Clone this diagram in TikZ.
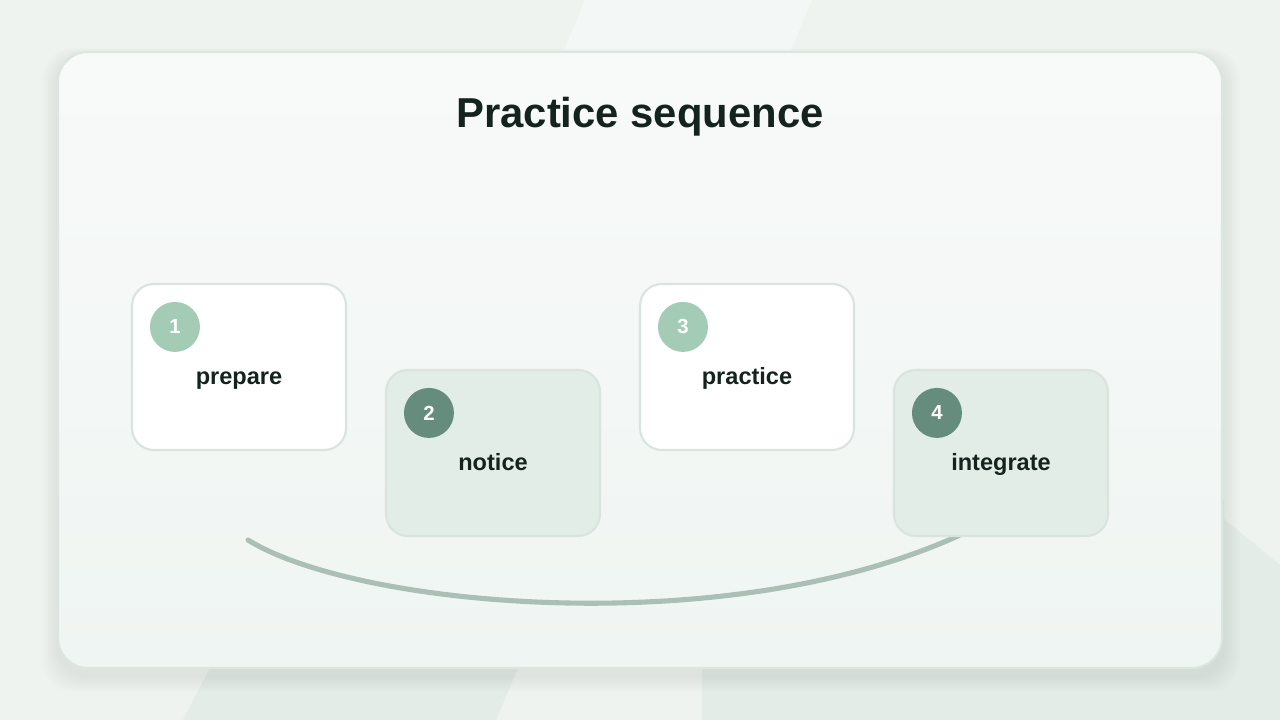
\documentclass[tikz,border=0pt]{standalone}
\usepackage{fontspec}
\setmainfont{Liberation Sans}
\definecolor{bg}{HTML}{EEF3F0}
\definecolor{bgdark}{HTML}{E3ECE7}
\definecolor{bglight}{HTML}{F3F7F5}
\definecolor{cardA}{HTML}{F8FAF9}
\definecolor{cardB}{HTML}{EFF5F2}
\definecolor{cardline}{HTML}{DCE6E1}
\definecolor{boxline}{HTML}{DAE4DF}
\definecolor{boxfill}{HTML}{E3EDE8}
\definecolor{numlight}{HTML}{A3CBB5}
\definecolor{numdark}{HTML}{668C7E}
\definecolor{arc}{HTML}{AABFB6}
\definecolor{ink}{HTML}{15231E}

\begin{document}
\begin{tikzpicture}[
      stepbox/.style={draw=boxline, line width=0.6pt, rounded corners=6.2pt,
        minimum width=2.14cm, minimum height=1.66cm},
      lightbox/.style={stepbox, fill=white},
      darkbox/.style={stepbox, fill=boxfill},
      num/.style={circle, minimum size=0.5cm, inner sep=0pt, text=white,
        font=\fontsize{5.8}{6}\selectfont\bfseries},
      lbl/.style={text=ink, anchor=base, font=\fontsize{6.7}{8}\selectfont\bfseries}]
    % page and faint backdrop
    \useasboundingbox[fill=bg] (0,0) rectangle (12.8,7.2);
    \fill[bglight] (5.85,7.2) -- (8.12,7.2) -- (7.70,6.2) -- (5.43,6.2) -- cycle;
    \fill[bgdark] (2.10,0.52) -- (5.18,0.52) -- (4.96,0) -- (1.83,0) -- cycle;
    \fill[bgdark] (7.02,0) -- (7.02,2.2) -- (12.24,2.2) -- (12.24,2.01)
      -- (12.8,1.55) -- (12.8,0) -- cycle;
    % card with soft shadow
    \foreach \i in {1,...,8}
      \fill[black, opacity=0.008, rounded corners=9pt]
        (0.58-0.02*\i,0.44-0.02*\i) rectangle (12.24+0.02*\i,6.64+0.01*\i);
    \draw[draw=cardline, line width=0.6pt, rounded corners=8.5pt,
      top color=cardA, bottom color=cardB] (0.58,0.52) rectangle (12.22,6.68);
    \node[text=ink, anchor=base, font=\fontsize{11.9}{14}\selectfont\bfseries] (title) at (6.40,5.92) {Practice sequence};
    % arc behind the steps
    \coordinate (arcL) at (2.48,1.80);
    \coordinate (arcR) at (9.90,2.00);
    \draw[arc, line width=1.45pt, line cap=round]
      (arcL) .. controls (3.60,1.10) and (7.60,0.75) .. (arcR);
    % steps
    \node[lightbox] (s1) at (2.39,3.53) {};
    \node[darkbox]  (s2) at (4.93,2.67) {};
    \node[lightbox] (s3) at (7.47,3.53) {};
    \node[darkbox]  (s4) at (10.01,2.67) {};
    \node[num, fill=numlight] (n1) at ([shift={(0.44,-0.44)}]s1.north west) {1};
    \node[num, fill=numdark]  (n2) at ([shift={(0.44,-0.44)}]s2.north west) {2};
    \node[num, fill=numlight] (n3) at ([shift={(0.44,-0.44)}]s3.north west) {3};
    \node[num, fill=numdark]  (n4) at ([shift={(0.44,-0.44)}]s4.north west) {4};
    \node[lbl] (l1) at ([yshift=-0.18cm]s1.center) {prepare};
    \node[lbl] (l2) at ([yshift=-0.18cm]s2.center) {notice};
    \node[lbl] (l3) at ([yshift=-0.18cm]s3.center) {practice};
    \node[lbl] (l4) at ([yshift=-0.18cm]s4.center) {integrate};
  \end{tikzpicture}
\end{document}
